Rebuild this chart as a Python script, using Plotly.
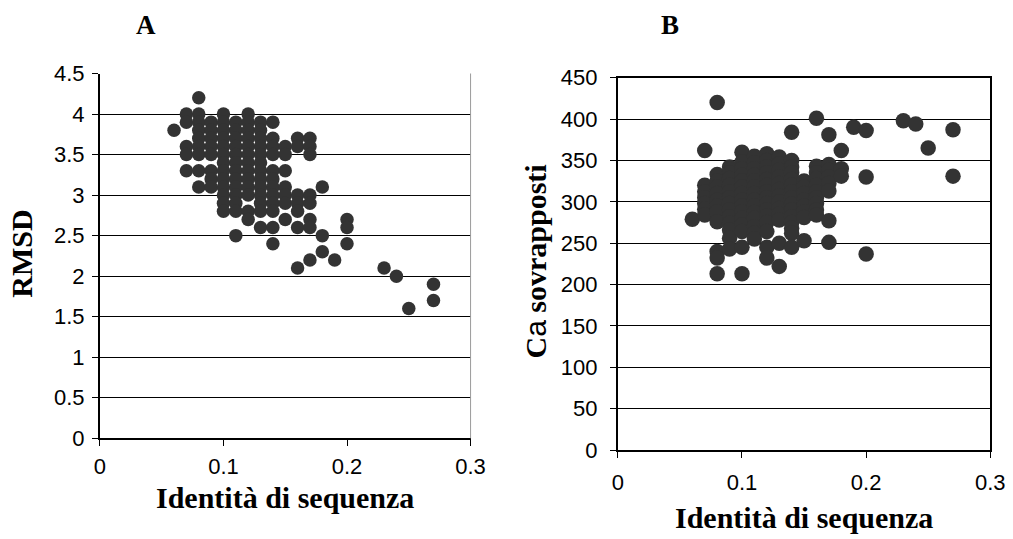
import plotly.graph_objects as go

# ---------------- Panel A : RMSD vs sequence identity ----------------
identity_A = [
    0.06,
    0.07, 0.07, 0.07, 0.07, 0.07,
    0.08, 0.08, 0.08, 0.08, 0.08, 0.08, 0.08, 0.08, 0.08,
    0.09, 0.09, 0.09, 0.09, 0.09, 0.09, 0.09, 0.09,
    0.10, 0.10, 0.10, 0.10, 0.10, 0.10, 0.10, 0.10, 0.10, 0.10, 0.10, 0.10, 0.10,
    0.11, 0.11, 0.11, 0.11, 0.11, 0.11, 0.11, 0.11, 0.11, 0.11, 0.11, 0.11, 0.11,
    0.12, 0.12, 0.12, 0.12, 0.12, 0.12, 0.12, 0.12, 0.12, 0.12, 0.12, 0.12, 0.12,
    0.13, 0.13, 0.13, 0.13, 0.13, 0.13, 0.13, 0.13, 0.13, 0.13, 0.13, 0.13, 0.13,
    0.14, 0.14, 0.14, 0.14, 0.14, 0.14, 0.14, 0.14, 0.14, 0.14, 0.14, 0.14,
    0.15, 0.15, 0.15, 0.15, 0.15, 0.15, 0.15,
    0.16, 0.16, 0.16, 0.16, 0.16, 0.16, 0.16,
    0.17, 0.17, 0.17, 0.17, 0.17, 0.17, 0.17, 0.17,
    0.18, 0.18, 0.18,
    0.19,
    0.20, 0.20, 0.20,
    0.23,
    0.24,
    0.25,
    0.27, 0.27,
]
rmsd_A = [
    3.8,
    4.0, 3.9, 3.6, 3.5, 3.3,
    4.2, 4.0, 3.9, 3.8, 3.7, 3.6, 3.5, 3.3, 3.1,
    3.9, 3.8, 3.7, 3.6, 3.5, 3.3, 3.2, 3.1,
    4.0, 3.9, 3.8, 3.7, 3.6, 3.5, 3.4, 3.3, 3.2, 3.1, 3.0, 2.9, 2.8,
    3.9, 3.8, 3.7, 3.6, 3.5, 3.4, 3.3, 3.2, 3.1, 3.0, 2.9, 2.8, 2.5,
    4.0, 3.9, 3.8, 3.7, 3.6, 3.5, 3.4, 3.3, 3.2, 3.1, 3.0, 2.8, 2.7,
    3.9, 3.8, 3.7, 3.6, 3.5, 3.4, 3.3, 3.2, 3.1, 3.0, 2.9, 2.8, 2.6,
    3.9, 3.7, 3.6, 3.5, 3.3, 3.2, 3.1, 3.0, 2.9, 2.8, 2.6, 2.4,
    3.6, 3.5, 3.3, 3.1, 3.0, 2.9, 2.7,
    3.7, 3.6, 3.0, 2.9, 2.8, 2.6, 2.1,
    3.7, 3.6, 3.5, 3.0, 2.9, 2.7, 2.6, 2.2,
    3.1, 2.5, 2.3,
    2.2,
    2.7, 2.6, 2.4,
    2.1,
    2.0,
    1.6,
    1.9, 1.7,
]

# ---------------- Panel B : superposed C-alpha vs sequence identity ----------------
identity_B = [
    0.06,
    0.07, 0.07, 0.07, 0.07, 0.07, 0.07, 0.07,
    0.08, 0.08, 0.08, 0.08, 0.08, 0.08, 0.08, 0.08, 0.08, 0.08, 0.08, 0.08,
    0.09, 0.09, 0.09, 0.09, 0.09, 0.09, 0.09, 0.09, 0.09, 0.09, 0.09, 0.09, 0.09,
    0.10, 0.10, 0.10, 0.10, 0.10, 0.10, 0.10, 0.10, 0.10, 0.10, 0.10, 0.10, 0.10, 0.10, 0.10,
    0.11, 0.11, 0.11, 0.11, 0.11, 0.11, 0.11, 0.11, 0.11, 0.11, 0.11, 0.11, 0.11, 0.11,
    0.12, 0.12, 0.12, 0.12, 0.12, 0.12, 0.12, 0.12, 0.12, 0.12, 0.12, 0.12, 0.12, 0.12, 0.12,
    0.13, 0.13, 0.13, 0.13, 0.13, 0.13, 0.13, 0.13, 0.13, 0.13, 0.13, 0.13, 0.13,
    0.14, 0.14, 0.14, 0.14, 0.14, 0.14, 0.14, 0.14, 0.14, 0.14, 0.14, 0.14, 0.14, 0.14, 0.14,
    0.15, 0.15, 0.15, 0.15, 0.15, 0.15, 0.15, 0.15,
    0.16, 0.16, 0.16, 0.16, 0.16, 0.16, 0.16, 0.16, 0.16, 0.16,
    0.17, 0.17, 0.17, 0.17, 0.17, 0.17, 0.17, 0.17,
    0.18, 0.18, 0.18,
    0.19,
    0.20, 0.20, 0.20,
    0.23,
    0.24,
    0.25,
    0.27, 0.27,
]
calpha_B = [
    279,
    362, 320, 312, 305, 298, 291, 284,
    420, 333, 325, 318, 310, 302, 295, 288, 276, 240, 232, 213,
    342, 335, 328, 320, 312, 305, 298, 290, 282, 274, 266, 256, 243,
    360, 348, 340, 332, 325, 318, 310, 302, 295, 288, 280, 272, 264, 245, 213,
    355, 347, 340, 332, 325, 318, 310, 302, 295, 287, 280, 270, 262, 255,
    358, 350, 342, 335, 327, 320, 312, 305, 298, 290, 283, 275, 264, 245, 232,
    354, 346, 338, 330, 322, 315, 307, 300, 292, 285, 278, 250, 222,
    384, 350, 342, 335, 327, 320, 312, 305, 297, 290, 282, 275, 268, 262, 245,
    325, 318, 310, 302, 295, 288, 281, 253,
    401, 343, 335, 328, 320, 312, 305, 298, 290, 284,
    381, 345, 338, 330, 322, 313, 277, 251,
    362, 340, 331,
    390,
    386, 330, 237,
    398,
    394,
    365,
    387, 331,
]

# ---------------- Ticks and labels ----------------
x_tick_vals = [0, 0.1, 0.2, 0.3]
x_tick_text = ["0", "0.1", "0.2", "0.3"]
rmsd_tick_vals = [0, 0.5, 1, 1.5, 2, 2.5, 3, 3.5, 4, 4.5]
rmsd_tick_text = ["0", "0.5", "1", "1.5", "2", "2.5", "3", "3.5", "4", "4.5"]
calpha_tick_vals = [0, 50, 100, 150, 200, 250, 300, 350, 400, 450]
calpha_tick_text = ["0", "50", "100", "150", "200", "250", "300", "350", "400", "450"]

panel_titles = ["A", "B"]
x_title = "Identità di sequenza"
y_title_A = "RMSD"
y_title_B = "C<span style='font-family:Liberation Sans, Arial, sans-serif;font-weight:normal'>a</span> sovrapposti"

SERIF = "Liberation Serif, Times New Roman, serif"
SANS = "Liberation Sans, Arial, sans-serif"
W, H = 1013, 539
DOT = "#333333"


def fx(p):
    """figure pixel column -> paper fraction"""
    return p / W


def fy(p):
    """figure pixel row (from top) -> paper fraction"""
    return 1 - p / H


fig = go.Figure()
fig.add_trace(go.Scatter(
    x=identity_A, y=rmsd_A, mode="markers",
    marker=dict(size=13.5, color=DOT, line=dict(width=0)),
    xaxis="x", yaxis="y", hoverinfo="skip", cliponaxis=False,
))
fig.add_trace(go.Scatter(
    x=identity_B, y=calpha_B, mode="markers",
    marker=dict(size=15.5, color=DOT, line=dict(width=0)),
    xaxis="x2", yaxis="y2", hoverinfo="skip", cliponaxis=False,
))

tickfont = dict(family=SANS, size=22, color="black")

common_x = dict(
    range=[0, 0.3], tickmode="array", tickvals=x_tick_vals, ticktext=x_tick_text,
    ticks="outside", ticklen=6, tickwidth=1, tickcolor="black",
    showline=True, linecolor="black", linewidth=2,
    showgrid=False, zeroline=False, tickfont=tickfont,
    fixedrange=True,
)
common_y = dict(
    tickmode="array", ticks="outside", ticklen=6, tickwidth=1, tickcolor="black",
    showline=True, linecolor="black", linewidth=2,
    showgrid=True, gridcolor="black", gridwidth=1,
    zeroline=False, tickfont=tickfont, fixedrange=True,
)

fig.update_layout(
    width=W, height=H,
    margin=dict(l=0, r=0, t=0, b=0),
    paper_bgcolor="white", plot_bgcolor="white",
    showlegend=False,
    xaxis=dict(common_x, domain=[fx(95.9), fx(474.4)], anchor="y", ticklabelstandoff=1),
    yaxis=dict(
        common_y, domain=[fy(447), fy(64.5)], anchor="x",
        range=[0, 4.5], tickvals=rmsd_tick_vals, ticktext=rmsd_tick_text,
        ticklabelstandoff=3,
    ),
    xaxis2=dict(common_x, domain=[fx(624.8), fx(1005.1)], anchor="y2", mirror=True,
                ticklabelstandoff=5),
    yaxis2=dict(
        common_y, domain=[fy(459.5), fy(68.8)], anchor="x2",
        range=[0, 450], tickvals=calpha_tick_vals, ticktext=calpha_tick_text,
        mirror=True, ticklabelstandoff=8,
    ),
)

# light right border of panel A
fig.add_shape(type="line", xref="x domain", yref="y domain", x0=1, x1=1, y0=0, y1=1,
              line=dict(color="#9a9a9a", width=1))

title_font = dict(family=SERIF, size=27, color="black")
axis_title_font = dict(family=SERIF, size=30, color="black")

annotations = [
    dict(text="<b>%s</b>" % panel_titles[0], x=fx(143.2), y=fy(13.3), font=title_font),
    dict(text="<b>%s</b>" % panel_titles[1], x=fx(677.6), y=fy(13.2), font=title_font),
    dict(text="<b>%s</b>" % x_title, x=fx(285.1), y=fy(509), font=axis_title_font),
    dict(text="<b>%s</b>" % x_title, x=fx(814.8), y=fy(530), font=axis_title_font),
    dict(text="<b>%s</b>" % y_title_A, x=fx(16.2), y=fy(253.6), font=axis_title_font, textangle=-90),
    dict(text="<b>%s</b>" % y_title_B, x=fx(541.1), y=fy(261.8), font=axis_title_font, textangle=-90),
]
for a in annotations:
    a.update(xref="paper", yref="paper", xanchor="center", yanchor="middle", showarrow=False)
fig.update_layout(annotations=annotations)

fig.write_html("out.html", config={"displayModeBar": False})
